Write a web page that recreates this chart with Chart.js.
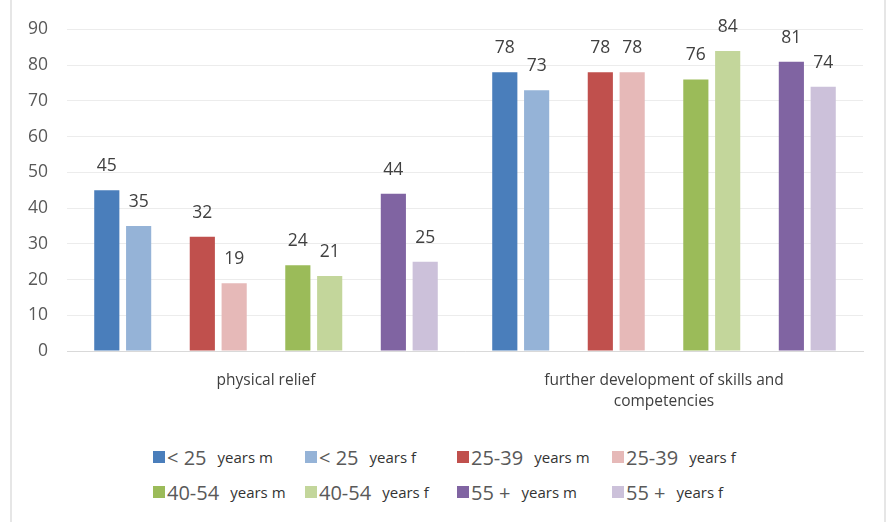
<!DOCTYPE html>
<html>
<head>
<meta charset="utf-8">
<script src="https://cdn.jsdelivr.net/npm/chart.js@4/dist/chart.umd.min.js"></script>
<style>
  html, body { margin: 0; padding: 0; background: #fff; }
  #wrap { position: relative; width: 890px; height: 522px; overflow: hidden; }
  #frame { position: absolute; left: 10px; top: -2px; width: 876px; height: 530px;
           border-left: 2px solid #e6e6e6; border-right: 2px solid #e6e6e6; box-sizing: border-box; }
  #Chart1 { position: absolute; left: 0; top: 0; }
  .lg { position: absolute; height: 26px; display: flex; align-items: center; white-space: nowrap;
        font-family: "Open Sans", sans-serif; }
  .lg .box { width: 12px; height: 12px; display: inline-block; }
  .lg .big { font-size: 20px; color: #595959; margin-left: 2px; }
  .lg .small { font-size: 15px; color: #333; margin-left: 11px; }
</style>
</head>
<body>
<div id="wrap">
  <div id="frame"></div>
  <canvas id="Chart1" width="890" height="420"></canvas>
  <div id="legend"></div>
</div>
<script>
document.addEventListener("DOMContentLoaded", function () {

  const categories = ['physical relief', ['further development of skills and', 'competencies']]

  const ageGroups = ['< 25', '< 25', '25-39', '25-39', '40-54', '40-54', '55 +', '55 +']
  const genderText = ['years m', 'years f', 'years m', 'years f', 'years m', 'years f', 'years m', 'years f']
  const colors = ['#4a7ebb', '#95b3d7', '#c0504d', '#e6b9b8', '#9bbb59', '#c3d69b', '#8064a2', '#ccc1da']

  const under25m = [45, 78]
  const under25f = [35, 73]
  const age2539m = [32, 78]
  const age2539f = [19, 78]
  const age4054m = [24, 76]
  const age4054f = [21, 84]
  const over55m = [44, 81]
  const over55f = [25, 74]
  const seriesValues = [under25m, under25f, age2539m, age2539f, age4054m, age4054f, over55m, over55f]

  const yTicks = [0, 10, 20, 30, 40, 50, 60, 70, 80, 90]

  // pairs of bars with an empty slot between each pair
  const datasets = []
  seriesValues.forEach(function (vals, i) {
    if (i > 0 && i % 2 === 0) {
      datasets.push({ label: '', data: [null, null], spacer: true })
    }
    datasets.push({
      label: ageGroups[i] + ' ' + genderText[i],
      data: vals,
      backgroundColor: colors[i],
      borderWidth: 0
    })
  })
  datasets.forEach(function (d) {
    d.barPercentage = 0.79
    d.categoryPercentage = 0.88
  })

  const valueLabels = {
    id: 'valueLabels',
    afterDatasetsDraw: function (chart) {
      const ctx = chart.ctx
      ctx.save()
      ctx.font = '17.5px "Open Sans", sans-serif'
      ctx.fillStyle = '#404040'
      ctx.textAlign = 'center'
      ctx.textBaseline = 'middle'
      chart.data.datasets.forEach(function (ds, di) {
        if (ds.spacer) return
        chart.getDatasetMeta(di).data.forEach(function (bar, j) {
          ctx.fillText(String(ds.data[j]), bar.x, bar.y - 24)
        })
      })
      ctx.restore()
    }
  }

  const config1 = {
    type: 'bar',
    data: { labels: categories, datasets: datasets },
    options: {
      responsive: false,
      animation: false,
      layout: { padding: { left: 0, right: 27, top: 17, bottom: 0 } },
      scales: {
        x: {
          grid: { display: false, drawTicks: false },
          border: { color: '#d9d9d9', width: 1 },
          ticks: {
            color: '#404040',
            padding: 20,
            maxRotation: 0,
            font: { family: '"Open Sans", sans-serif', size: 15.5, lineHeight: 1.3 }
          },
          afterFit: function (scale) { scale.height = 69 }
        },
        y: {
          min: 0,
          max: 90,
          afterBuildTicks: function (scale) {
            scale.ticks = yTicks.map(function (v) { return { value: v } })
          },
          grid: { color: '#ececec', drawTicks: false },
          border: { display: false },
          ticks: {
            color: '#595959',
            padding: 19,
            font: { family: '"Open Sans", sans-serif', size: 17.5 }
          },
          afterFit: function (scale) { scale.width = 67 }
        }
      },
      plugins: {
        legend: { display: false },
        tooltip: { enabled: false }
      }
    },
    plugins: [valueLabels]
  }

  var myChart1 = new Chart(document.getElementById('Chart1'), config1)

  // legend, 4 columns x 2 rows
  const legendCols = [153, 305, 457, 612]
  const legendRows = [444, 479]
  const legend = document.getElementById('legend')
  ageGroups.forEach(function (age, i) {
    const item = document.createElement('div')
    item.className = 'lg'
    item.style.left = legendCols[i % 4] + 'px'
    item.style.top = legendRows[Math.floor(i / 4)] + 'px'
    item.innerHTML = '<span class="box" style="background:' + colors[i] + '"></span>' +
      '<span class="big">' + age + '</span>' +
      '<span class="small">' + genderText[i] + '</span>'
    legend.appendChild(item)
  })
})
</script>
</body>
</html>
